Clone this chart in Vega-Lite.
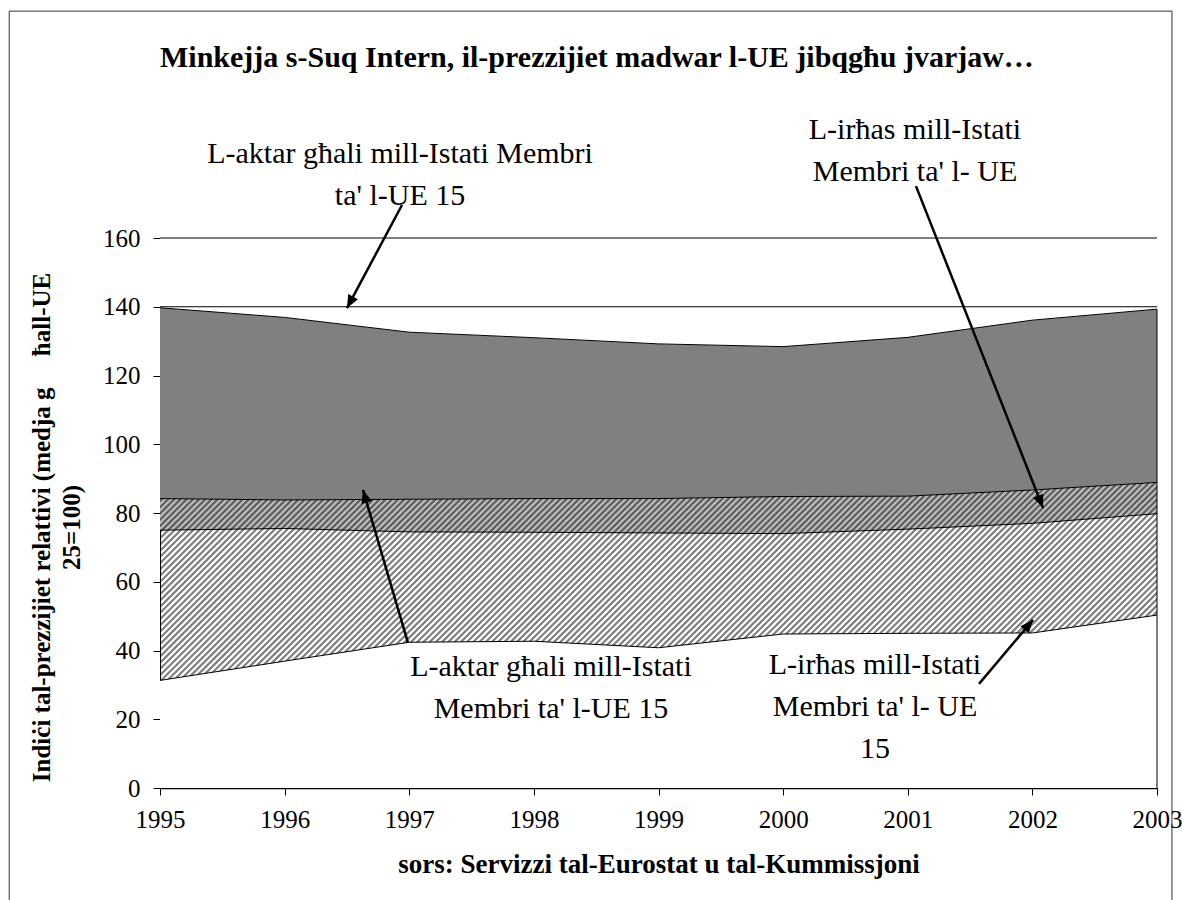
{
  "$schema": "https://vega.github.io/schema/vega-lite/v6.json",
  "width": 997,
  "height": 550,
  "autosize": {"type": "none"},
  "padding": {"left": 160, "top": 238, "right": 25, "bottom": 112},
  "background": "white",
  "config": {"view": {"stroke": null}, "font": "Liberation Serif"},
  "title": {
    "text": "Minkejja s-Suq Intern, il-prezzijiet madwar l-UE jibqgħu jvarjaw…",
    "anchor": "start",
    "frame": "group",
    "font": "Liberation Serif",
    "fontSize": 30,
    "fontWeight": "bold",
    "color": "#000000",
    "baseline": "alphabetic",
    "offset": -86
  },
  "data": {
    "values": [
      {"year": 1995, "low": 31.3, "band1": 75.0, "band2": 84.2, "high": 139.7},
      {"year": 1996, "low": 36.9, "band1": 75.5, "band2": 83.8, "high": 136.9},
      {"year": 1997, "low": 42.4, "band1": 74.5, "band2": 84.0, "high": 132.6},
      {"year": 1998, "low": 42.7, "band1": 74.4, "band2": 84.2, "high": 131.0},
      {"year": 1999, "low": 40.8, "band1": 74.2, "band2": 84.2, "high": 129.2},
      {"year": 2000, "low": 44.8, "band1": 74.0, "band2": 84.8, "high": 128.4},
      {"year": 2001, "low": 45.0, "band1": 75.3, "band2": 84.9, "high": 131.1},
      {"year": 2002, "low": 45.1, "band1": 77.0, "band2": 86.7, "high": 136.1},
      {"year": 2003, "low": 50.3, "band1": 79.8, "band2": 88.9, "high": 139.3}
    ]
  },
  "layer": [
    {
      "mark": {"type": "area", "fill": "#bcbcbc"},
      "encoding": {
        "x": {
          "field": "year", "type": "quantitative",
          "scale": {"domain": [1995, 2003], "nice": false, "zero": false},
          "axis": {
            "title": "sors: Servizzi tal-Eurostat u tal-Kummissjoni",
            "values": [1995, 1996, 1997, 1998, 1999, 2000, 2001, 2002, 2003],
            "format": "d", "grid": false,
            "domainColor": "#000000", "domainWidth": 1.5, "tickColor": "#000000", "tickSize": 7,
            "labelFont": "Liberation Serif", "labelFontSize": 25, "labelColor": "#000000",
            "labelPadding": 12, "labelFlush": false, "labelOverlap": false,
            "titleFont": "Liberation Serif", "titleFontSize": 27, "titleFontWeight": "bold",
            "titleColor": "#000000", "titlePadding": 19
          }
        },
        "y": {
          "field": "band2", "type": "quantitative",
          "scale": {"domain": [0, 160], "nice": false, "zero": true},
          "axis": {
            "title": ["Indiċi tal-prezzijiet relattivi (medja g\u00a0\u00a0\u00a0\u00a0\u00a0ħall-UE", "25=100)"],
            "values": [0, 20, 40, 60, 80, 100, 120, 140, 160],
            "grid": false,
            "domainColor": "#000000", "tickColor": "#000000", "tickSize": 7,
            "labelFont": "Liberation Serif", "labelFontSize": 25, "labelColor": "#000000",
            "labelPadding": 13,
            "titleFont": "Liberation Serif", "titleFontSize": 25, "titleFontWeight": "bold",
            "titleColor": "#000000", "titleAngle": 270, "titleX": -119, "titleY": 289,
            "titleBaseline": "middle", "titleAlign": "center", "titleLineHeight": 30
          }
        },
        "y2": {"field": "band1"}
      }
    },
    {
      "data": {"values": [{}]},
      "mark": {"type": "rule", "stroke": "#000000", "strokeOpacity": 0.5, "strokeWidth": 1200, "strokeDash": [2.2, 2.2], "strokeCap": "butt", "clip": true},
      "encoding": {
        "x": {"datum": 1995.822}, "y": {"datum": 195.2},
        "x2": {"datum": 2002.178}, "y2": {"datum": -35.2}
      }
    },
    {
      "mark": {"type": "area", "fill": "#ffffff"},
      "encoding": {
        "x": {"field": "year", "type": "quantitative"},
        "y": {"field": "low", "type": "quantitative"},
        "y2": {"datum": 0}
      }
    },
    {
      "mark": {"type": "area", "fill": "#808080"},
      "encoding": {
        "x": {"field": "year", "type": "quantitative"},
        "y": {"field": "high", "type": "quantitative"},
        "y2": {"field": "band2"}
      }
    },
    {
      "mark": {"type": "area", "fill": "#ffffff"},
      "encoding": {
        "x": {"field": "year", "type": "quantitative"},
        "y": {"field": "high", "type": "quantitative"},
        "y2": {"datum": 160}
      }
    },
    {
      "data": {"values": [{"grid": 140}, {"grid": 160}]},
      "mark": {"type": "rule", "stroke": "#000000", "strokeWidth": 1},
      "encoding": {"y": {"field": "grid", "type": "quantitative"}}
    },
    {
      "transform": [{"fold": ["low", "band1", "band2", "high"], "as": ["series", "v"]}],
      "mark": {"type": "line", "stroke": "#000000", "strokeWidth": 1},
      "encoding": {
        "x": {"field": "year", "type": "quantitative"},
        "y": {"field": "v", "type": "quantitative"},
        "detail": {"field": "series", "type": "nominal"}
      }
    },
    {
      "transform": [{"filter": "datum.year == 2003"}],
      "mark": {"type": "rule", "stroke": "#000000", "strokeWidth": 1},
      "encoding": {
        "x": {"field": "year", "type": "quantitative"},
        "y": {"field": "high", "type": "quantitative"},
        "y2": {"datum": 0}
      }
    },
    {
      "data": {"name": "arrows", "values": [
        {"arrow": "A1", "year": 1996.942, "value": 169.6, "year2": 1996.500, "value2": 139.6},
        {"arrow": "A2", "year": 2001.066, "value": 175.1, "year2": 2002.085, "value2": 81.5},
        {"arrow": "A3", "year": 1996.990, "value": 42.2, "year2": 1996.629, "value2": 86.7},
        {"arrow": "A4", "year": 2001.572, "value": 30.3, "year2": 2002.005, "value2": 48.9}
      ]},
      "layer": [
        {
          "mark": {"type": "rule", "stroke": "#000000", "strokeWidth": 2.5},
          "encoding": {
            "x": {"field": "year", "type": "quantitative"},
            "y": {"field": "value", "type": "quantitative"},
            "x2": {"field": "year2"},
            "y2": {"field": "value2"}
          }
        },
        {
          "transform": [{"filter": "datum.arrow == 'A1'"}],
          "mark": {"type": "point", "shape": "M0,0L-0.42,1L0.42,1Z", "filled": true, "color": "#000000", "opacity": 1, "size": 676, "angle": 208.1},
          "encoding": {"x": {"field": "year2", "type": "quantitative"}, "y": {"field": "value2", "type": "quantitative"}}
        },
        {
          "transform": [{"filter": "datum.arrow == 'A2'"}],
          "mark": {"type": "point", "shape": "M0,0L-0.42,1L0.42,1Z", "filled": true, "color": "#000000", "opacity": 1, "size": 676, "angle": 158.5},
          "encoding": {"x": {"field": "year2", "type": "quantitative"}, "y": {"field": "value2", "type": "quantitative"}}
        },
        {
          "transform": [{"filter": "datum.arrow == 'A3'"}],
          "mark": {"type": "point", "shape": "M0,0L-0.42,1L0.42,1Z", "filled": true, "color": "#000000", "opacity": 1, "size": 676, "angle": 343.6},
          "encoding": {"x": {"field": "year2", "type": "quantitative"}, "y": {"field": "value2", "type": "quantitative"}}
        },
        {
          "transform": [{"filter": "datum.arrow == 'A4'"}],
          "mark": {"type": "point", "shape": "M0,0L-0.42,1L0.42,1Z", "filled": true, "color": "#000000", "opacity": 1, "size": 676, "angle": 40.2},
          "encoding": {"x": {"field": "year2", "type": "quantitative"}, "y": {"field": "value2", "type": "quantitative"}}
        }
      ]
    },
    {
      "data": {"values": [
        {"year": 1996.926, "value": 184.4, "label": "L-aktar għali mill-Istati Membri\nta' l-UE 15"},
        {"year": 2001.058, "value": 191.4, "label": "L-irħas mill-Istati\nMembri ta' l- UE"},
        {"year": 1998.137, "value": 35.2, "label": "L-aktar għali mill-Istati\nMembri ta' l-UE 15"},
        {"year": 2000.737, "value": 35.8, "label": "L-irħas mill-Istati\nMembri ta' l- UE\n15"}
      ]},
      "mark": {"type": "text", "font": "Liberation Serif", "fontSize": 30, "color": "#000000", "align": "center", "baseline": "middle", "lineBreak": "\n", "lineHeight": 42},
      "encoding": {
        "x": {"field": "year", "type": "quantitative"},
        "y": {"field": "value", "type": "quantitative"},
        "text": {"field": "label"}
      }
    },
    {
      "data": {"values": [{}]},
      "mark": {"type": "rect", "filled": false, "stroke": "#333333", "strokeWidth": 1},
      "encoding": {
        "x": {"datum": 1993.79}, "x2": {"datum": 2003.12},
        "y": {"datum": 226}, "y2": {"datum": -40}
      }
    }
  ]
}
